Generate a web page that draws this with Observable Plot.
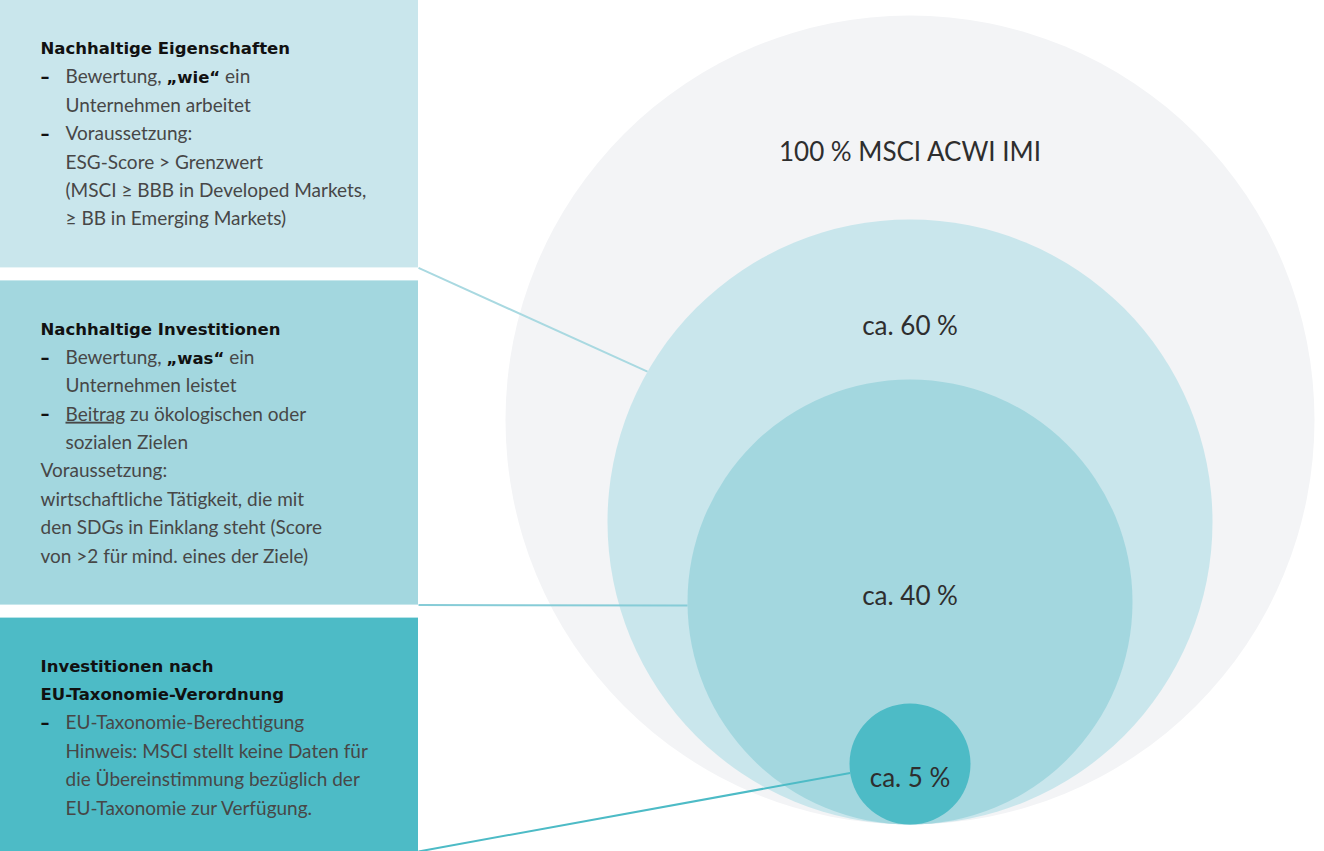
<!DOCTYPE html>
<html><head><meta charset="utf-8">
<script src="https://cdn.jsdelivr.net/npm/d3@7"></script>
<script src="https://cdn.jsdelivr.net/npm/@observablehq/plot@0.6"></script>
<style>
html,body{margin:0;padding:0;background:#fff;}
#chart svg{display:block;}
</style></head><body><div id="chart"></div>
<script>
// ---------- data ----------
const shares = [100, 60, 40, 5];
const shareLabels = ["100\u202F% MSCI ACWI IMI", "ca. 60\u202F%", "ca. 40\u202F%", "ca. 5\u202F%"];
const shareColors = ["#f3f4f6", "#c9e6ec", "#a3d7df", "#4dbbc6"];

const boxTitles = [
  ["Nachhaltige Eigenschaften"],
  ["Nachhaltige Investitionen"],
  ["Investitionen nach", "EU-Taxonomie-Verordnung"]
];
const boxLines = [
  [["dash", "Bewertung, **„wie“** ein"],
   ["cont", "Unternehmen arbeitet"],
   ["dash", "Voraussetzung:"],
   ["cont", "ESG-Score > Grenzwert"],
   ["cont", "(MSCI ≥ BBB in Developed Markets,"],
   ["cont", "≥ BB in Emerging Markets)"]],
  [["dash", "Bewertung, **„was“** ein"],
   ["cont", "Unternehmen leistet"],
   ["dash", "__Beitrag__ zu ökologischen oder"],
   ["cont", "sozialen Zielen"],
   ["plain", "Voraussetzung:"],
   ["plain", "wirtschaftliche Tätigkeit, die mit"],
   ["plain", "den SDGs in Einklang steht (Score"],
   ["plain", "von >2 für mind. eines der Ziele)"]],
  [["dash", "EU-Taxonomie-Berechtigung"],
   ["cont", "Hinweis: MSCI stellt keine Daten für"],
   ["cont", "die Übereinstimmung bezüglich der"],
   ["cont", "EU-Taxonomie zur Verfügung."]]
];
const boxColors = ["#c9e6ec", "#a3d7df", "#4dbbc6"];
const linkColors = ["#a9d9e1", "#86ccd7", "#4dbbc6"];

// ---------- layout ----------
const W = 1324, H = 851;
const PAD = 48.5, LH = 28.4, GAP = 13, BOXW = 418, TX = 40, TXI = 65;
const CX = 909.5, BOTTOM = 824;
const rDomain = [5, 40, 60, 100], rRange = [60.5, 222.5, 302.5, 404.5];
const rPix = d3.scaleLinear().domain(rDomain).range(rRange);
const linkAngles = [-29.8, 0.9, 8.5]; // degrees below horizontal, left side

const circles = shares.map((s, i) => {
  const r = rPix(s);
  return {share: s, label: shareLabels[i], fill: shareColors[i], cx: CX, cy: BOTTOM - r, r, top: BOTTOM - 2 * r};
});
circles.forEach((c, i) => {
  const child = circles[i + 1];
  c.ly = child ? c.top + 0.67 * (child.top - c.top) : c.cy + 0.25 * c.r;
});

const boxes = [], rows = [], dashes = [], links = [];
let yTop = 0;
boxTitles.forEach((titles, i) => {
  const lines = [...titles.map(t => ["title", t]), ...boxLines[i]];
  const h = 2 * PAD + (lines.length - 1) * LH;
  boxes.push({x1: 0, x2: BOXW, y1: yTop, y2: yTop + h, fill: boxColors[i]});
  lines.forEach(([kind, t], j) => {
    const y = yTop + PAD + j * LH;
    rows.push({kind, t, y, x: (kind === "dash" || kind === "cont") ? TXI : TX});
    if (kind === "dash") dashes.push({x: TX, y});
  });
  const c = circles[i + 1];
  const a = linkAngles[i] * Math.PI / 180;
  const yb = Math.min(yTop + h, H);
  links.push({x1: BOXW, y1: yb, x2: c.cx - c.r * Math.cos(a), y2: c.cy + c.r * Math.sin(a), stroke: linkColors[i]});
  yTop += h + GAP;
});

const FONT = "Lato, 'Open Sans', sans-serif";
const BOLD = "'DejaVu Sans', 'Open Sans', sans-serif";
const BOLD_SIZE = 16.5;

const plot = Plot.plot({
  width: W, height: H,
  margin: 0,
  x: {domain: [0, W], range: [0, W], axis: null},
  y: {domain: [0, H], range: [0, H], axis: null},
  r: {type: "linear", domain: rDomain, range: rRange},
  style: {fontFamily: FONT, background: "#fff"},
  marks: [
    Plot.dot(circles, {x: "cx", y: "cy", r: "share", fill: "fill", stroke: null}),
    Plot.text(circles, {x: "cx", y: "ly", text: "label", fontSize: 26, fill: "#2e2e2e", textAnchor: "middle"}),
    Plot.rect(boxes, {x1: "x1", x2: "x2", y1: "y1", y2: "y2", fill: "fill"}),
    Plot.link(links, {x1: "x1", y1: "y1", x2: "x2", y2: "y2", stroke: "stroke", strokeWidth: 2}),
    Plot.text(rows.filter(d => d.kind === "title"), {x: "x", y: "y", text: "t", textAnchor: "start", fontSize: BOLD_SIZE, fontWeight: "bold", fontFamily: BOLD, fill: "#111"}),
    Plot.text(rows.filter(d => d.kind !== "title"), {x: "x", y: "y", text: "t", textAnchor: "start", fontSize: 19, fill: "#474747"}),
    Plot.text(dashes, {x: "x", y: "y", text: () => "–", textAnchor: "start", fontSize: 18, fontWeight: "bold", fontFamily: BOLD, fill: "#111"})
  ]
});

// rich text: **bold**, __underline__
d3.select(plot).selectAll("text").each(function() {
  const el = this;
  const s = el.textContent;
  if (!/\*\*|__/.test(s)) return;
  el.textContent = "";
  const parts = s.split(/(\*\*[^*]+\*\*|__[^_]+__)/).filter(p => p.length);
  parts.forEach(p => {
    const ts = d3.select(el).append("tspan");
    if (p.startsWith("**")) ts.text(p.slice(2, -2)).attr("font-weight", "bold").attr("font-family", BOLD).attr("font-size", BOLD_SIZE).attr("fill", "#111");
    else if (p.startsWith("__")) ts.text(p.slice(2, -2)).attr("text-decoration", "underline");
    else ts.text(p);
  });
});

document.getElementById("chart").appendChild(plot);
</script>
</body></html>
